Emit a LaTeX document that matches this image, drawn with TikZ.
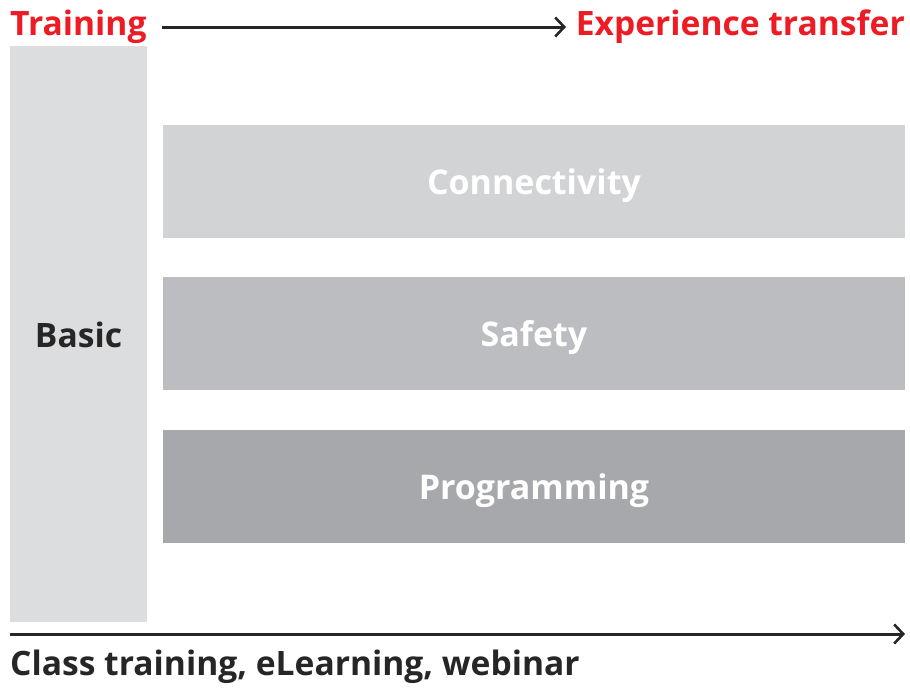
\documentclass[tikz,border=0pt]{standalone}
\usepackage{fontspec}
\setmainfont{Open Sans}
\usetikzlibrary{arrows.meta}
\definecolor{abbred}{HTML}{ED1C24}
\definecolor{txt}{HTML}{262626}
\definecolor{gA}{HTML}{DCDDDF}
\definecolor{gB}{HTML}{D2D3D5}
\definecolor{gC}{HTML}{BCBDC0}
\definecolor{gD}{HTML}{A7A8AB}
\begin{document}
\begin{tikzpicture}[x=1pt,y=-1pt,
  lbl/.style={font=\fontsize{33.6}{40}\selectfont\bfseries, inner sep=0pt},
  bar/.style={draw=none, inner sep=0pt, minimum width=742pt, minimum height=113pt},
  barlbl/.style={text=white, font=\fontsize{34}{40}\selectfont\bfseries, inner sep=0pt, anchor=base},
  arr/.style={line width=3pt, draw=txt, -{Straight Barb[length=9pt,width=19pt,line width=2.6pt]}}]
\useasboundingbox (0,0) rectangle (910,688);
\fill[gA] (10,46) rectangle (147,622);
\node[lbl, text=txt, anchor=base] (basic) at (78.5,347) {Basic};
\node[bar, fill=gB] (conn) at (534,181.5) {};
\node[bar, fill=gC] (safe) at (534,333.5) {};
\node[bar, fill=gD] (prog) at (534,486.5) {};
\node[barlbl] (connl) at ([yshift=-12.5pt]conn.center) {Connectivity};
\node[barlbl] (safel) at ([yshift=-12.5pt]safe.center) {Safety};
\node[barlbl] (progl) at ([yshift=-12.5pt]prog.center) {Programming};
\node[lbl, text=abbred, anchor=base west] (train) at (10,35) {Training};
\node[lbl, text=abbred, anchor=base east] (exp) at (905,35) {Experience transfer};
\coordinate (ta) at (162,27);
\coordinate (tb) at (566,27);
\draw[arr] (ta) -- (tb);
\coordinate (ba) at (10,634);
\coordinate (bb) at (905,634);
\draw[arr] (ba) -- (bb);
\node[lbl, text=txt, anchor=base west] (cls) at (10,675) {Class training, eLearning, webinar};
\end{tikzpicture}
\end{document}
